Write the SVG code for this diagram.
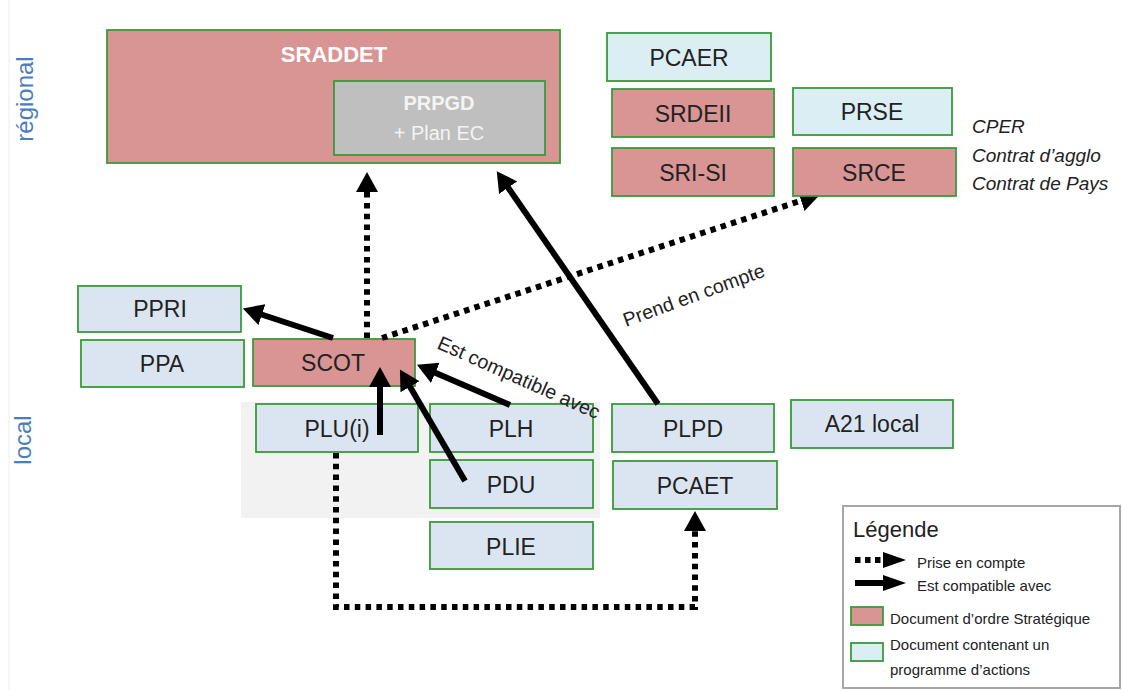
<svg xmlns="http://www.w3.org/2000/svg" width="1122" height="690" viewBox="0 0 1122 690">
<defs>
<style>
.strat{fill:#d99594;stroke:#3a9a3a;stroke-width:1.8}
.act{fill:#dbeef3;stroke:#3a9a3a;stroke-width:1.8}
.loc{fill:#dbe5f1;stroke:#3a9a3a;stroke-width:1.8}
.lbl{font-family:"Liberation Sans",Arial,sans-serif;font-size:23px;fill:#222;text-anchor:middle}
.solid{stroke:#000;stroke-width:6;fill:none}
.dot{stroke:#000;stroke-width:6;fill:none;stroke-dasharray:5.5 5.3}
.side{font-family:"Liberation Sans",Arial,sans-serif;font-size:24px;fill:#4a7ebb}
.lg{font-family:"Liberation Sans",Arial,sans-serif;font-size:15px;fill:#222}
.it{font-family:"Liberation Sans",Arial,sans-serif;font-size:19px;font-style:italic;fill:#222}
.rot{font-family:"Liberation Sans",Arial,sans-serif;font-size:19.6px;fill:#222}
</style>
<marker id="ah" markerUnits="userSpaceOnUse" markerWidth="24" markerHeight="24" refX="2" refY="11" orient="auto">
<path d="M0,0 L20,11 L0,22 z" fill="#000"/>
</marker>
</defs>
<rect width="1122" height="690" fill="#fff"/>
<line x1="9" y1="0" x2="9" y2="690" stroke="#ececec" stroke-width="1"/>
<rect x="241" y="402" width="359" height="116" fill="#f2f2f2"/>

<text class="side" transform="translate(33,99) rotate(-90)" text-anchor="middle">régional</text>
<text class="side" transform="translate(31,440) rotate(-90)" text-anchor="middle">local</text>

<g id="sraddet">
<rect class="strat" x="107" y="30" width="453" height="133"/>
<text class="lbl" x="334" y="62" style="font-weight:bold;fill:#fff;font-size:22px">SRADDET</text>
</g>
<g id="prpgd">
<rect x="334" y="81" width="211" height="74" fill="#bfbfbf" stroke="#3a9a3a" stroke-width="1.8"/>
<text class="lbl" x="439" y="110" style="font-weight:bold;fill:#f4f4f4;font-size:20px">PRPGD</text>
<text class="lbl" x="439" y="140" style="fill:#f4f4f4;font-size:20px">+ Plan EC</text>
</g>
<g id="pcaer"><rect class="act" x="607" y="33" width="164" height="48"/><text class="lbl" x="689" y="66">PCAER</text></g>
<g id="srdeii"><rect class="strat" x="612" y="89" width="162" height="48"/><text class="lbl" x="693" y="122">SRDEII</text></g>
<g id="prse"><rect class="act" x="793" y="88" width="159" height="47"/><text class="lbl" x="872" y="120">PRSE</text></g>
<g id="srisi"><rect class="strat" x="612" y="148" width="162" height="48"/><text class="lbl" x="693" y="181">SRI-SI</text></g>
<g id="contrats">
<text class="it" x="972" y="133">CPER</text>
<text class="it" x="972" y="162">Contrat d’agglo</text>
<text class="it" x="972" y="190">Contrat de Pays</text>
</g>

<g id="ppri"><rect class="loc" x="78" y="286" width="163" height="46"/><text class="lbl" x="160" y="317">PPRI</text></g>
<g id="ppa"><rect class="loc" x="81" y="340" width="163" height="47"/><text class="lbl" x="162" y="372">PPA</text></g>
<g id="scot"><rect class="strat" x="253" y="339" width="162" height="47"/><text class="lbl" x="333" y="371">SCOT</text></g>
<g id="plu"><rect class="loc" x="256" y="404" width="162" height="48"/><text class="lbl" x="337" y="437">PLU(i)</text></g>
<g id="plh"><rect class="loc" x="430" y="404" width="163" height="48"/><text class="lbl" x="511" y="437">PLH</text></g>
<g id="pdu"><rect class="loc" x="430" y="460" width="163" height="48"/><text class="lbl" x="511" y="493">PDU</text></g>
<g id="plie"><rect class="loc" x="430" y="522" width="163" height="47"/><text class="lbl" x="511" y="555">PLIE</text></g>
<g id="plpd"><rect class="loc" x="612" y="404" width="162" height="48"/><text class="lbl" x="693" y="437">PLPD</text></g>
<g id="a21"><rect class="loc" x="791" y="400" width="162" height="48"/><text class="lbl" x="872" y="432">A21 local</text></g>
<g id="pcaet"><rect class="loc" x="613" y="461" width="164" height="48"/><text class="lbl" x="695" y="494">PCAET</text></g>

<g id="connectors">
<line class="solid" x1="333" y1="338" x2="260" y2="314" marker-end="url(#ah)"/>
<line class="solid" x1="380" y1="435" x2="380" y2="385" marker-end="url(#ah)"/>
<line class="solid" x1="465" y1="481" x2="409" y2="385" marker-end="url(#ah)"/>
<line class="solid" x1="510" y1="405" x2="433.5" y2="372" marker-end="url(#ah)"/>
<line class="solid" x1="658" y1="404" x2="507" y2="186" marker-end="url(#ah)"/>
<line class="dot" x1="367" y1="338" x2="367" y2="190" marker-end="url(#ah)"/>
<line class="dot" x1="382" y1="338" x2="803" y2="200" marker-end="url(#ah)"/>
<path class="dot" d="M336,453 V607 H695 V529" marker-end="url(#ah)"/>
<text class="rot" transform="translate(436,348) rotate(24)">Est compatible avec</text>
<text class="rot" transform="translate(626,327) rotate(-20)">Prend en compte</text>
</g>

<g id="srce"><rect class="strat" x="793" y="148" width="163" height="48"/><text class="lbl" x="874" y="181">SRCE</text></g>

<g id="legend">
<rect x="843" y="506" width="277" height="182" fill="#fff" stroke="#a6a6a6" stroke-width="2"/>
<text x="853" y="537" style="font-family:'Liberation Sans',Arial,sans-serif;font-size:22px;fill:#222">Légende</text>
<line x1="855" y1="560" x2="883" y2="560" stroke="#000" stroke-width="6" stroke-dasharray="5.5 4.5"/>
<path d="M883,552 L906,560 L883,568 z" fill="#000"/>
<text class="lg" x="917" y="568">Prise en compte</text>
<line x1="855" y1="583" x2="886" y2="583" stroke="#000" stroke-width="6"/>
<path d="M883,575 L906,583 L883,591 z" fill="#000"/>
<text class="lg" x="917" y="591">Est compatible  avec</text>
<rect class="strat" x="851" y="607" width="32" height="18"/>
<text class="lg" x="890" y="624">Document d’ordre Stratégique</text>
<rect class="act" x="851" y="643" width="32" height="18"/>
<text class="lg" x="890" y="650">Document contenant un</text>
<text class="lg" x="890" y="675">programme d’actions</text>
</g>
</svg>
